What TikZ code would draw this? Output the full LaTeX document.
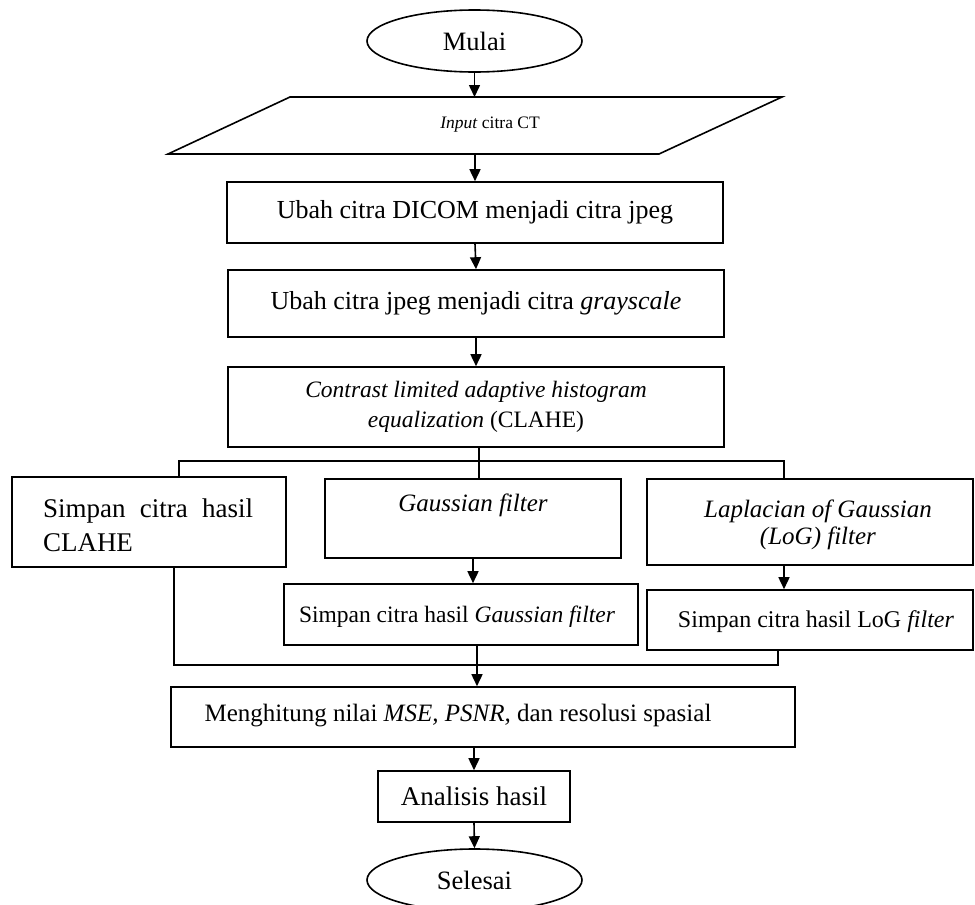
\documentclass[tikz,border=0pt]{standalone}
\usepackage{fontspec}
\setmainfont{Liberation Serif}
\usetikzlibrary{arrows.meta,shapes.geometric}
\newcommand\fsz[2]{\fontsize{#1}{#2}\selectfont}
\begin{document}
\begin{tikzpicture}[x=1pt,y=-1pt,
  line width=1.6pt,
  box/.style={draw, rectangle, inner sep=0pt, align=center},
  term/.style={draw, ellipse, inner sep=0pt},
  arr/.style={-{Triangle[width=11pt,length=12pt]}},
  txt/.style={inner sep=0pt, align=center}
]
\useasboundingbox[fill=white] (0,0) rectangle (975,905);

% terminals
\node[term, minimum width=215pt, minimum height=62pt, font=\fsz{26.5}{30}] (mulai) at (474.5,41) {Mulai};
\node[term, minimum width=215pt, minimum height=62pt, font=\fsz{26.5}{30}] (selesai) at (474.5,880) {Selesai};

% input parallelogram
\draw (290,97) -- (782,97) -- (659,154) -- (168,154) -- cycle;
\node[txt, font=\fsz{17.5}{20}] (inp) at (490,125) {\textit{Input} citra CT};
\coordinate (inptop) at (474.5,97);
\coordinate (inpbot) at (475,154);

% main boxes
\node[box, minimum width=496pt, minimum height=61pt, font=\fsz{26}{30}] (b1) at (475,212.5) {Ubah citra DICOM menjadi citra jpeg};
\node[box, minimum width=496pt, minimum height=67pt, font=\fsz{26}{30}] (b2) at (476,303.5) {Ubah citra jpeg menjadi citra \textit{grayscale}};
\node[box, minimum width=496pt, minimum height=80pt, font=\fsz{23.5}{30}] (b3) at (476,407) {\textit{Contrast limited adaptive histogram}\\\textit{equalization} (CLAHE)};

% three branches
\node[box, minimum width=274pt, minimum height=90pt] (sclahe) at (149,522) {};
\node[txt, text width=210pt, align=left, font=\fsz{27}{34}] (sclahetxt) at (148,525) {Simpan\hfill citra\hfill hasil\\CLAHE};

\node[box, minimum width=296pt, minimum height=79pt] (gauss) at (473,518.5) {};
\node[txt, font=\fsz{25}{30}] (gausstxt) at (473,505) {\textit{Gaussian filter}};

\node[box, minimum width=326pt, minimum height=86pt] (log) at (810,522) {};
\node[txt, font=\fsz{25}{27}] (logtxt) at (818,525) {\textit{Laplacian of Gaussian}\\\textit{(LoG) filter}};

\node[box, minimum width=354pt, minimum height=61pt] (sgauss) at (461,614.5) {};
\node[txt, font=\fsz{23.5}{28}] (sgausstxt) at (457,617) {Simpan citra hasil \textit{Gaussian filter}};

\node[box, minimum width=326pt, minimum height=60pt] (slog) at (810,620) {};
\node[txt, font=\fsz{24}{28}] (slogtxt) at (816,622) {Simpan citra hasil LoG \textit{filter}};

% bottom boxes
\node[box, minimum width=624pt, minimum height=60pt] (meng) at (483,717) {};
\node[txt, font=\fsz{25}{30}] (mengtxt) at (458,716) {Menghitung nilai \textit{MSE, PSNR,} dan resolusi spasial};
\node[box, minimum width=192pt, minimum height=51pt, font=\fsz{27}{30}] (anal) at (474,796.5) {Analisis hasil};

% connector coordinates
\coordinate (br) at (479,461);
\coordinate (brL) at (179,461);
\coordinate (brR) at (784,461);
\coordinate (cL) at (174,665);
\coordinate (cR) at (778,665);
\coordinate (cG) at (477,665);

% connectors
\draw[arr] (mulai.south) -- (inptop);
\draw[arr] (inpbot) -- (b1.north);
\draw[arr] (b1.south) -- (b2.north);
\draw[arr] (b2.south) -- (b3.north);
\draw (br |- b3.south) -- (br);
\draw (brL |- sclahe.north) -- (brL) -- (brR) -- (brR |- log.north);
\draw (br) -- (br |- gauss.north);
\draw[arr] (gauss.south) -- (gauss.south |- sgauss.north);
\draw[arr] (brR |- log.south) -- (brR |- slog.north);
\draw (cL |- sclahe.south) -- (cL) -- (cR) -- (cR |- slog.south);
\draw[arr] (cG |- sgauss.south) -- (cG |- meng.north);
\draw[arr] (meng.south -| anal.north) -- (anal.north);
\draw[arr] (anal.south) -- (selesai.north);
\end{tikzpicture}
\end{document}
